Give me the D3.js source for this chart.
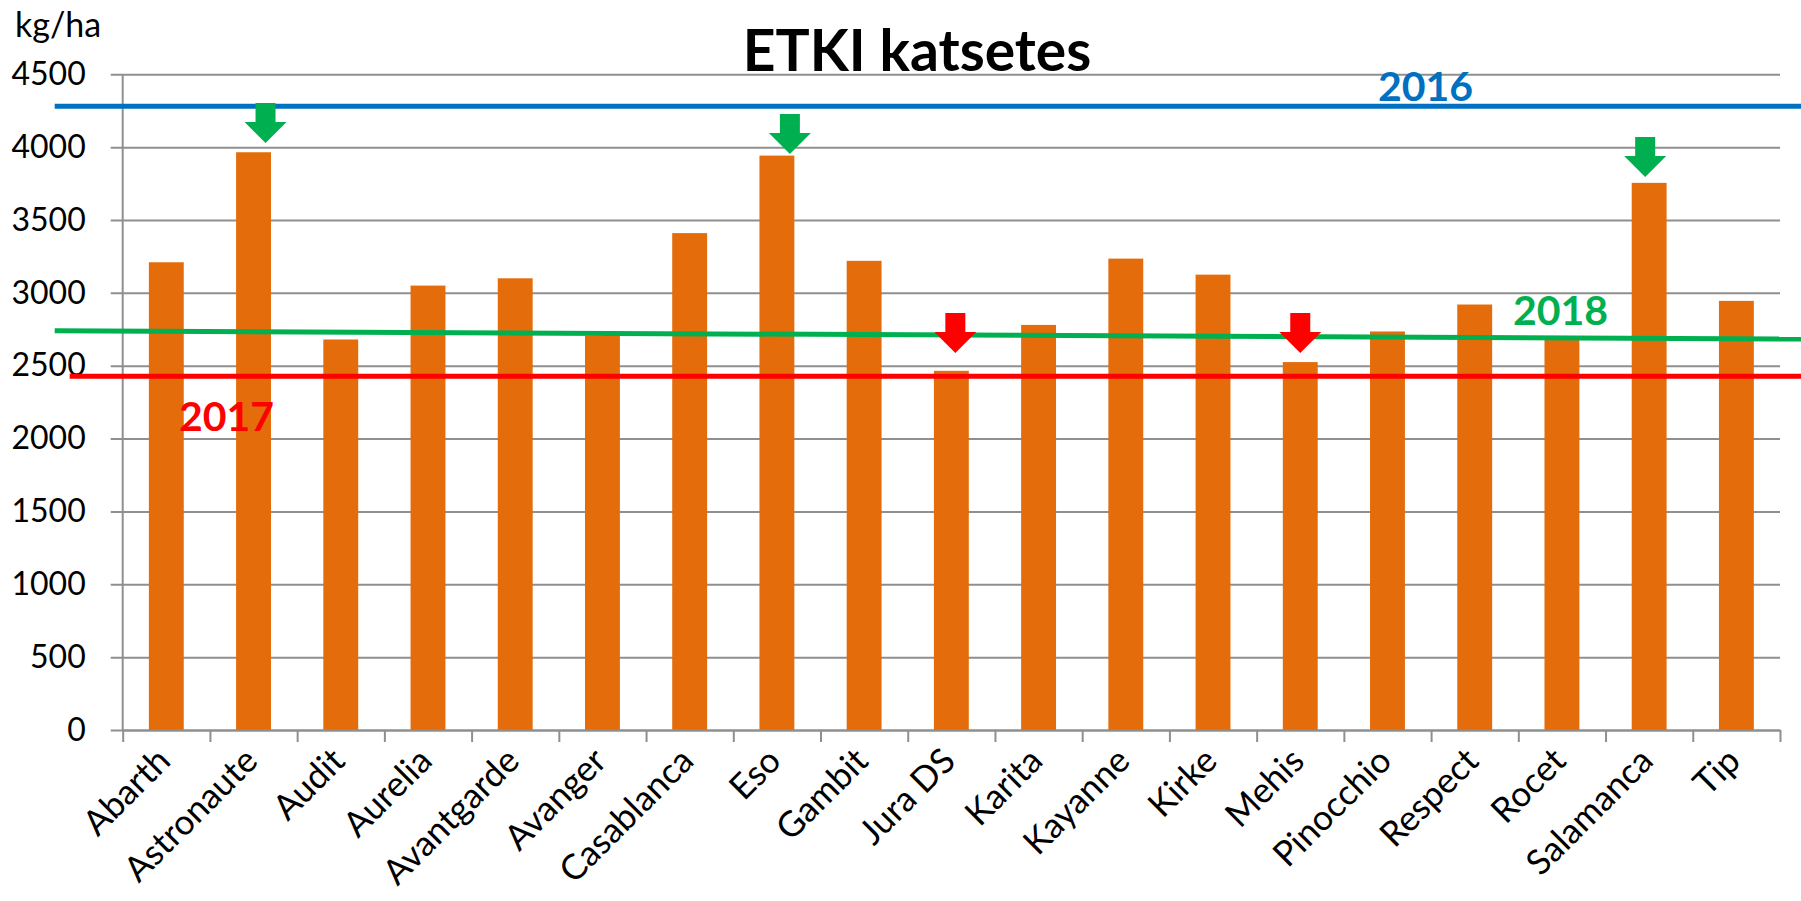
<!DOCTYPE html>
<html>
<head>
<meta charset="utf-8">
<script src="https://cdn.jsdelivr.net/npm/d3@7"></script>
<style>
  html, body { margin: 0; padding: 0; background: #fff; }
  svg { display: block; font-family: Lato, "Open Sans", sans-serif; }
</style>
</head>
<body>
<svg id="chart" width="1801" height="901"></svg>
<script>
// ---- data ----
const categories = ["Abarth","Astronaute","Audit","Aurelia","Avantgarde","Avanger","Casablanca","Eso","Gambit","Jura DS","Karita","Kayanne","Kirke","Mehis","Pinocchio","Respect","Rocet","Salamanca","Tip"];
const yields = [3210, 3965, 2680, 3050, 3100, 2705, 3410, 3942, 3220, 2465, 2780, 3235, 3125, 2525, 2735, 2920, 2700, 3755, 2945];
const yTicks = [0, 500, 1000, 1500, 2000, 2500, 3000, 3500, 4000, 4500];

// reference lines for previous years (value at left end, value at right end)
const refYears = ["2016", "2017", "2018"];
const refStart = [4280, 2427, 2740];
const refEnd   = [4280, 2427, 2683];
const refColors = ["#0070C0", "#FF0000", "#00B050"];

// arrow annotations
const arrowCats   = ["Astronaute", "Eso", "Salamanca", "Jura DS", "Mehis"];
const arrowTips   = [4028, 3953, 3795, 2587, 2587];
const arrowColors = ["#00B050", "#00B050", "#00B050", "#FF0000", "#FF0000"];
const arrowShift  = [12, 13, -4, 4, 0];

(function () {
// ---- layout ----
const W = 1801, H = 901;
const mLeft = 122.7, mRight = 1780, mTop = 74.3, mBottom = 730;
const plotW = mRight - mLeft;

const svg = d3.select("#chart");

const x = d3.scaleBand().domain(categories).range([mLeft, mRight]).padding(0);
const xIdx = d3.scaleLinear().domain([0, categories.length]).range([mLeft, mRight]);
const y = d3.scaleLinear().domain([0, 4500]).range([mBottom, mTop]);

const gridColor = "#8F8F8F";

// gridlines (extend left of axis as tick marks)
const grid = svg.append("g")
  .attr("transform", `translate(${mRight},0)`)
  .call(d3.axisLeft(y).tickValues(yTicks).tickSize(plotW + 12).tickFormat(""));
grid.select(".domain").remove();
grid.selectAll("line").attr("stroke", gridColor).attr("stroke-width", 2);

// y labels
const yl = svg.append("g")
  .attr("transform", `translate(${mLeft},0)`)
  .call(d3.axisLeft(y).tickValues(yTicks).tickSize(0).tickPadding(37).tickFormat(d3.format("d")));
yl.select(".domain").remove();
yl.selectAll("text").attr("font-size", 32).attr("fill", "#000").attr("font-family", "Lato");

// bars
const barW = x.bandwidth() * 0.4;
svg.append("g").selectAll("rect")
  .data(categories)
  .join("rect")
  .attr("x", d => x(d) + (x.bandwidth() - barW) / 2)
  .attr("width", barW)
  .attr("y", (d, i) => y(yields[i]))
  .attr("height", (d, i) => y(0) - y(yields[i]))
  .attr("fill", "#E46C0A");

// y axis line
svg.append("line")
  .attr("x1", mLeft).attr("x2", mLeft)
  .attr("y1", mTop).attr("y2", mBottom)
  .attr("stroke", gridColor).attr("stroke-width", 2);

// x axis with ticks at category boundaries
const xa = svg.append("g")
  .attr("transform", `translate(0,${mBottom})`)
  .call(d3.axisBottom(xIdx).tickValues(d3.range(categories.length + 1)).tickSize(12).tickSizeOuter(0).tickFormat(""));
xa.select(".domain").attr("stroke", gridColor).attr("stroke-width", 2);
xa.selectAll("line").attr("stroke", gridColor).attr("stroke-width", 2);

// category labels
svg.append("g").selectAll("text")
  .data(categories)
  .join("text")
  .attr("transform", d => `translate(${x(d) + x.bandwidth() / 2 + 6},763) rotate(-45)`)
  .attr("text-anchor", "end")
  .attr("font-size", 35)
  .attr("fill", "#000")
  .text(d => d);

// reference lines
const lineStartX = [mLeft - 68, mLeft - 53, mLeft - 68];
const refLine = svg.append("g");
refYears.forEach((yr, i) => {
  refLine.append("line")
    .attr("x1", lineStartX[i]).attr("x2", W)
    .attr("y1", y(refStart[i])).attr("y2", y(refEnd[i]))
    .attr("stroke", refColors[i]).attr("stroke-width", 5);
});

// reference labels
const trendAt = (xp) => {
  const t = (xp - lineStartX[2]) / (W - lineStartX[2]);
  return refStart[2] + t * (refEnd[2] - refStart[2]);
};
const labelX = [1378, 179, 1513];
const labelBase = [y(refStart[0]) - 5, y(refStart[1]) + 55, y(trendAt(1560)) - 13];
refYears.forEach((yr, i) => {
  svg.append("text")
    .attr("x", labelX[i]).attr("y", labelBase[i])
    .attr("font-size", 41).attr("font-weight", "bold")
    .attr("fill", refColors[i])
    .text(yr);
});

// arrows
const headW = 42, headL = 21, shaftW = 20, shaftL = 19;
svg.append("g").selectAll("path")
  .data(arrowCats)
  .join("path")
  .attr("d", (d, i) => {
    const cx = x(d) + x.bandwidth() / 2 + arrowShift[i];
    const ty = y(arrowTips[i]);
    const hy = ty - headL, sy = hy - shaftL;
    return `M${cx},${ty} L${cx - headW / 2},${hy} L${cx - shaftW / 2},${hy} L${cx - shaftW / 2},${sy} L${cx + shaftW / 2},${sy} L${cx + shaftW / 2},${hy} L${cx + headW / 2},${hy} Z`;
  })
  .attr("fill", (d, i) => arrowColors[i]);

// title
svg.append("text")
  .attr("x", 917).attr("y", 71)
  .attr("text-anchor", "middle")
  .attr("font-size", 57).attr("font-weight", "bold")
  .attr("fill", "#000")
  .text("ETKI katsetes");

// unit label
svg.append("text")
  .attr("x", 15).attr("y", 37)
  .attr("font-size", 34)
  .attr("fill", "#000")
  .text("kg/ha");
})();
</script>
</body>
</html>
